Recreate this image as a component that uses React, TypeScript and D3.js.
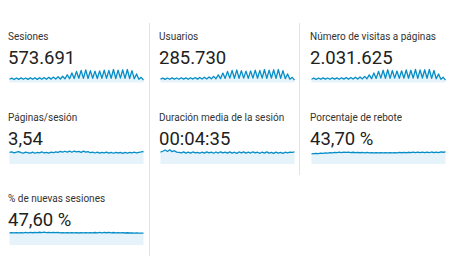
import React from "react";
import * as d3 from "d3";

const titles = [
  "Sesiones",
  "Usuarios",
  "Número de visitas a páginas",
  "Páginas/sesión",
  "Duración media de la sesión",
  "Porcentaje de rebote",
  "% de nuevas sesiones",
];
const totals = ["573.691", "285.730", "2.031.625", "3,54", "00:04:35", "43,70 %", "47,60 %"];

const sesiones = [1250, 1700, 1150, 1750, 1200, 1800, 1250, 1750, 1200, 1850, 1250, 1800, 1200, 1850, 1250, 1900, 1250, 2000, 1300, 2100, 1300, 2200, 1350, 2400,
  1400, 3000, 1450, 3700, 1550, 4300, 1650, 4700, 1600, 4900, 1550, 4600, 1650, 4400, 1550, 4500, 1650, 4800, 1600, 4700, 1650, 5000, 1550, 4800, 1700, 4900, 1600, 5000, 1550, 4600, 1450, 3300, 1250, 2000, 900];
const usuarios = [650, 840, 610, 870, 630, 890, 650, 870, 630, 920, 650, 900, 630, 920, 660, 950, 650, 980, 680, 1030, 690, 1080, 710, 1180,
  730, 1480, 750, 1820, 790, 2150, 840, 2350, 810, 2450, 790, 2300, 840, 2200, 790, 2250, 840, 2400, 820, 2350, 840, 2500, 790, 2400, 860, 2450, 810, 2500, 790, 2300, 740, 1650, 640, 1000, 450];
const visitas = [4400, 5900, 4100, 6100, 4300, 6200, 4500, 6100, 4300, 6400, 4500, 6200, 4300, 6400, 4500, 6600, 4500, 6800, 4600, 7200, 4700, 7500, 4800, 8200,
  5000, 10300, 5200, 12700, 5500, 15000, 5900, 16400, 5700, 17100, 5500, 16100, 5900, 15400, 5500, 15700, 5800, 16800, 5700, 16400, 5900, 17500, 5500, 16800, 6000, 17100, 5700, 17500, 5500, 16100, 5100, 11500, 4400, 7000, 3200];
const paginasSesion = [3.55, 3.7, 3.42, 3.62, 3.78, 3.48, 3.36, 3.66, 3.46, 3.34, 3.62, 3.3, 3.56, 3.4, 3.7, 3.38, 3.58, 3.34, 3.66, 3.46, 3.74, 3.56, 3.86, 3.62, 3.92, 3.66, 3.96, 3.62, 3.98, 3.7, 3.88, 3.58, 3.94, 3.62, 3.8, 3.46, 3.66, 3.38, 3.62, 3.34, 3.58, 3.42, 3.66, 3.34, 3.56, 3.3, 3.6, 3.38, 3.54, 3.26, 3.58, 3.36, 3.56, 3.42, 3.62, 3.38, 3.58, 3.7, 3.84];
const duracion = [285, 305, 335, 300, 340, 295, 318, 285, 280, 268, 290, 262, 282, 260, 288, 265, 280, 258, 285, 262, 290, 265, 284, 258, 288, 262, 292, 265, 284, 260, 290, 262, 282, 255, 288, 265, 290, 260, 284, 262, 292, 265, 282, 256, 286, 262, 290, 260, 280, 254, 284, 260, 278, 254, 282, 264, 286, 280, 290];
const rebote = [38.5, 39.5, 40.2, 39.6, 41.2, 40.6, 42.0, 41.6, 43.2, 42.4, 44.0, 43.0, 44.8, 43.4, 45.2, 43.8, 44.8, 43.2, 44.6, 43.0, 44.2, 42.8, 44.0, 42.6, 43.8, 42.4, 43.6, 42.2, 43.5, 42.0, 43.4, 41.9, 43.3, 42.0, 43.5, 42.2, 43.6, 42.4, 44.0, 42.8, 44.2, 42.8, 44.6, 43.0, 44.8, 43.0, 45.0, 43.2, 45.4, 43.4, 45.0, 43.0, 45.6, 43.4, 45.2, 43.2, 45.8, 44.6, 46.0];
const nuevas = [46.8, 48.0, 46.6, 47.8, 46.8, 48.3, 47.0, 48.6, 47.2, 48.8, 47.4, 49.2, 47.8, 49.4, 48.0, 49.6, 48.2, 49.2, 47.8, 48.9, 47.6, 48.6, 47.3, 48.3, 47.0, 48.1, 46.8, 48.0, 46.6, 47.8, 46.5, 47.7, 46.7, 48.0, 46.8, 48.2, 47.0, 48.4, 47.2, 48.6, 47.3, 48.7, 47.4, 48.8, 47.2, 48.4, 47.0, 48.0, 46.8, 47.8, 46.5, 47.4, 46.4, 47.2, 46.2, 46.9, 46.0, 45.9, 45.6];

const seriesList = [sesiones, usuarios, visitas, paginasSesion, duracion, rebote, nuevas];
const domainTops = [5400, 2700, 18800, 4.3, 335, 53.2, 54.2];

const W = 450;
const H = 262;
const colX = [8, 159, 310];
const rowY = [0, 81.5, 162.5];
const SPARK_W = 134;
const SPARK_H = 14;

const LINE = "#058dc7";
const FILL = "#e6f3fa";
const FONT = "Roboto, 'Noto Sans', Arial, sans-serif";

function Cell({ idx }: { idx: number }) {
  const col = idx % 3;
  const row = Math.floor(idx / 3);
  const x0 = colX[col];
  const y0 = rowY[row];
  const data = seriesList[idx];
  const bottom = y0 + 82.5;
  const x = d3.scaleLinear().domain([0, data.length - 1]).range([x0 + 1.5, x0 + 1.5 + SPARK_W]);
  const y = d3.scaleLinear().domain([0, domainTops[idx]]).range([bottom, bottom - SPARK_H]);
  const line = d3.line<number>().x((_, i) => x(i)).y((d) => y(d));
  const area = d3.area<number>().x((_, i) => x(i)).y0(bottom).y1((d) => y(d));
  return (
    <g>
      <text x={x0} y={y0 + 39.5} fontSize={10} fill="#333" fontFamily={FONT}>
        {titles[idx]}
      </text>
      <text x={x0} y={y0 + 63.5} fontSize={18.5} fill="#212121" fontFamily={FONT}>
        {totals[idx]}
      </text>
      <path d={area(data) || ""} fill={FILL} stroke="none" />
      <path d={line(data) || ""} fill="none" stroke={LINE} strokeWidth={1.3} strokeLinejoin="round" />
    </g>
  );
}

export default function App() {
  return (
    <svg width={W} height={H} style={{ position: "absolute", left: 0, top: 0, background: "#fff" }}>
      <rect x={0} y={0} width={W} height={H} fill="#fff" />
      <line x1={149.5} x2={149.5} y1={23} y2={256} stroke="#e3e3e3" strokeWidth={1} />
      <line x1={299.5} x2={299.5} y1={23} y2={175} stroke="#e3e3e3" strokeWidth={1} />
      {titles.map((_, i) => (
        <Cell key={i} idx={i} />
      ))}
    </svg>
  );
}
